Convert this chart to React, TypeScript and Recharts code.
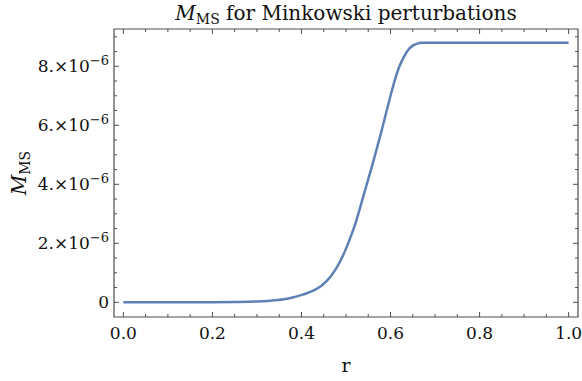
import React from 'react';
import { LineChart, Line, XAxis, YAxis, ReferenceArea } from 'recharts';

// Radial coordinate samples and the Misner–Sharp mass (in units of 1e-6)
const rValues = [
  0, 0.1, 0.2, 0.25, 0.3, 0.33, 0.36, 0.38, 0.4, 0.41, 0.42, 0.43, 0.44, 0.45,
  0.46, 0.47, 0.48, 0.49, 0.5, 0.51, 0.52, 0.54, 0.56, 0.58, 0.6, 0.61, 0.62,
  0.63, 0.64, 0.65, 0.66, 0.67, 0.7, 0.75, 0.8, 0.9, 1.0,
];
const massMicro = [
  0, 0, 0.002, 0.008, 0.025, 0.05, 0.1, 0.16, 0.25, 0.3, 0.355, 0.425, 0.51,
  0.63, 0.78, 0.97, 1.2, 1.48, 1.82, 2.2, 2.62, 3.65, 4.7, 5.82, 7.0, 7.55, 8.0,
  8.32, 8.56, 8.7, 8.77, 8.8, 8.8, 8.8, 8.8, 8.8, 8.8,
];

const xMajorTicks = [0, 0.2, 0.4, 0.6, 0.8, 1.0];
const xTickLabels = ['0.0', '0.2', '0.4', '0.6', '0.8', '1.0'];
const yMajorTicks = [0, 2, 4, 6, 8];
const yTickMantissas = ['0', '2.', '4.', '6.', '8.'];
const yExponent = '\u22126';

const data = rValues.map((r, i) => ({ r, m: massMicro[i] }));

const W = 582;
const H = 381;
const PLOT_LEFT = 114;
const PLOT_RIGHT = 578;
const PLOT_TOP = 29;
const PLOT_BOTTOM = 317;
const X_DOMAIN: [number, number] = [-0.021, 1.021];
const Y_DOMAIN: [number, number] = [-0.498, 9.264];

const FRAME = '#4d4d4d';
const TEXT = '#111111';
const CURVE = '#5E81B5';
const FONT = '"DejaVu Serif", serif';

// minor ticks every 0.05 in r and every 0.5 in mass
const xTicks: number[] = [];
for (let i = 0; i <= 20; i++) xTicks.push(Math.round(i * 5) / 100);
const yTicks: number[] = [];
for (let i = 0; i <= 18; i++) yTicks.push(i / 2);

const findMajor = (list: number[], v: number) =>
  list.findIndex((m) => Math.abs(m - v) < 1e-9);

const XTick = (props: any) => {
  const { x, y, payload } = props;
  const idx = findMajor(xMajorTicks, payload.value);
  const len = idx >= 0 ? 5 : 3;
  return (
    <g>
      <line x1={x} x2={x} y1={y} y2={y - len} stroke={FRAME} strokeWidth={1} />
      <line x1={x} x2={x} y1={PLOT_TOP} y2={PLOT_TOP + len} stroke={FRAME} strokeWidth={1} />
      {idx >= 0 && (
        <text x={x} y={y + 22} textAnchor="middle" fontFamily={FONT} fontSize={17} fill={TEXT}>
          {xTickLabels[idx]}
        </text>
      )}
    </g>
  );
};

const YTick = (props: any) => {
  const { x, y, payload } = props;
  const idx = findMajor(yMajorTicks, payload.value);
  const len = idx >= 0 ? 5 : 3;
  return (
    <g>
      <line x1={x} x2={x + len} y1={y} y2={y} stroke={FRAME} strokeWidth={1} />
      <line x1={PLOT_RIGHT} x2={PLOT_RIGHT - len} y1={y} y2={y} stroke={FRAME} strokeWidth={1} />
      {idx >= 0 && (
        <text x={x - 5} y={y + 6} textAnchor="end" fontFamily={FONT} fontSize={17} fill={TEXT}>
          {idx === 0 ? (
            yTickMantissas[idx]
          ) : (
            <>
              <tspan>{yTickMantissas[idx]}×10</tspan>
              <tspan dy={-7} fontSize={13}>{yExponent}</tspan>
            </>
          )}
        </text>
      )}
    </g>
  );
};

export default function App() {
  return (
    <div style={{ position: 'absolute', left: 0, top: 0, width: W, height: H, background: '#fff' }}>
      <LineChart
        width={W}
        height={H}
        data={data}
        margin={{ top: PLOT_TOP, right: W - PLOT_RIGHT, bottom: 0, left: 0 }}
      >
        <XAxis
          dataKey="r"
          type="number"
          domain={X_DOMAIN}
          ticks={xTicks}
          interval={0}
          tick={<XTick />}
          tickLine={false}
          axisLine={false}
          tickSize={0}
          tickMargin={0}
          height={H - PLOT_BOTTOM}
        />
        <YAxis
          type="number"
          domain={Y_DOMAIN}
          ticks={yTicks}
          interval={0}
          tick={<YTick />}
          tickLine={false}
          axisLine={false}
          tickSize={0}
          tickMargin={0}
          width={PLOT_LEFT}
        />
        <ReferenceArea
          x1={X_DOMAIN[0]}
          x2={X_DOMAIN[1]}
          y1={Y_DOMAIN[0]}
          y2={Y_DOMAIN[1]}
          fill="none"
          fillOpacity={0}
          stroke={FRAME}
          strokeWidth={1.2}
          ifOverflow="visible"
        />
        <Line
          dataKey="m"
          type="monotone"
          stroke={CURVE}
          strokeWidth={2.5}
          dot={false}
          isAnimationActive={false}
        />
      </LineChart>
      <svg
        width={W}
        height={H}
        style={{ position: 'absolute', left: 0, top: 0, pointerEvents: 'none' }}
      >
        <text x={346} y={20} textAnchor="middle" fontFamily={FONT} fontSize={20} fill={TEXT}>
          <tspan fontStyle="italic">M</tspan>
          <tspan dy={4} fontSize={14}>MS</tspan>
          <tspan dy={-4}> for Minkowski perturbations</tspan>
        </text>
        <text
          x={26}
          y={173}
          transform="rotate(-90 26 173)"
          textAnchor="middle"
          fontFamily={FONT}
          fontSize={20}
          fill={TEXT}
        >
          <tspan fontStyle="italic">M</tspan>
          <tspan dy={4} fontSize={14}>MS</tspan>
        </text>
        <text x={346} y={372} textAnchor="middle" fontFamily={FONT} fontSize={19} fill={TEXT}>
          r
        </text>
      </svg>
    </div>
  );
}
